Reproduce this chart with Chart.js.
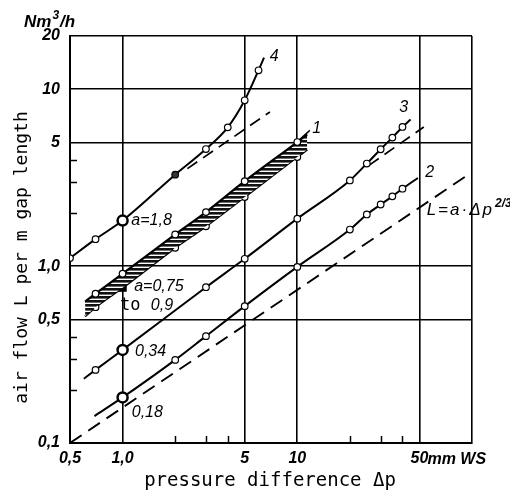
<!DOCTYPE html>
<html>
<head>
<meta charset="utf-8">
<script src="https://cdn.jsdelivr.net/npm/chart.js"></script>
<style>
  html, body { margin: 0; padding: 0; background: #fff; }
  #wrap { width: 510px; height: 490px; }
</style>
</head>
<body>
<div id="wrap"><canvas id="c" width="510" height="490"></canvas></div>
<script>
// ---- axis ticks ----
const xTickValues = [0.5, 1, 5, 10, 50, 100];
const xTickLabels = ['0,5', '1,0', '5', '10', '50', ''];
const yTickValues = [0.1, 0.5, 1, 5, 10, 20];
const yTickLabels = ['0,1', '0,5', '1,0', '5', '10', '20'];
const xMinorTicks = [2, 3, 4, 20, 30, 40];
const yMinorTicks = [0.2, 0.3, 0.4, 2, 3, 4];

// ---- curve 4 (a = 1.8) ----
const curve4Dp = [0.5, 0.7, 1.0, 2.0, 3.0, 4.0, 5.0, 6.0, 6.45];
const curve4L  = [1.11, 1.42, 1.81, 3.29, 4.59, 6.09, 8.66, 12.8, 15.1];
// ---- curve 1 band (a = 0.75 to 0.9) ----
const curve1Dp    = [0.61, 0.7, 1, 2, 3, 5, 10, 11.4];
const curve1Upper = [0.63, 0.698, 0.906, 1.51, 2.02, 3.02, 5.03, 5.55];
const curve1Lower = [0.52, 0.586, 0.755, 1.27, 1.68, 2.46, 4.14, 4.55];
// ---- curve 3 (a = 0.34) ----
const curve3Dp = [0.6, 0.7, 1.0, 3.0, 5.0, 10, 20, 25, 30, 35, 40, 44.5];
const curve3L  = [0.231, 0.259, 0.336, 0.76, 1.10, 1.855, 3.05, 3.80, 4.58, 5.33, 6.12, 6.74];
// ---- curve 2 (a = 0.18) ----
const curve2Dp = [0.69, 1.0, 2.0, 3.0, 5.0, 10, 20, 25, 30, 35, 40, 49];
const curve2L  = [0.142, 0.181, 0.295, 0.402, 0.594, 0.99, 1.61, 1.96, 2.23, 2.48, 2.74, 3.15];
// ---- dashed reference lines L = a·Δp^(2/3) ----
const dashMainDp = [0.5, 100];  const dashMainL = [0.1, 3.4];
const dash4Dp    = [2.35, 6.97]; const dash4L    = [3.56, 7.44];
const dash3Dp    = [25.7, 53];   const dash3L    = [3.71, 6.12];
// ---- leader of label "1" ----
const leader1Dp = [10.2, 11.8]; const leader1L = [5.15, 5.85];

// ---- annotation anchors (data space) ----
const labelTexts = ['4', '1', '3', '2', 'a=1,8', 'a=0,75', '0,34', '0,18'];
const labelDp    = [7.37, 12.9, 40.6, 57.2, 1.466, 1.614, 1.446, 1.385];
const labelL     = [15.4, 5.99, 7.91, 3.40, 1.81, 0.767, 0.331, 0.149];

const pts = (xs, ys) => xs.map((x, i) => ({ x: x, y: ys[i] }));

// hatch pattern for band
const pc = document.createElement('canvas');
pc.width = 6; pc.height = 4;
const pctx = pc.getContext('2d');
pctx.fillStyle = '#fff'; pctx.fillRect(0, 0, 6, 4);
pctx.fillStyle = '#111'; pctx.fillRect(0, 0, 6, 2.6);
const hatch = document.createElement('canvas').getContext('2d').createPattern(pc, 'repeat');

function markerRadius(n, skipFirst, skipLast, big) {
  return (ctx) => {
    const i = ctx.dataIndex;
    if ((skipFirst && i === 0) || (skipLast && i === n - 1)) return 0;
    return big && big(ctx) ? 5 : 3.3;
  };
}
const atOne = (xs) => (ctx) => xs[ctx.dataIndex] === 1;

const solid = { borderColor: '#000', borderWidth: 2, pointBackgroundColor: '#fff',
  pointBorderColor: '#000', fill: false };

const datasets = [
  Object.assign({}, solid, {
    data: pts(curve1Dp, curve1Upper), fill: '+1', backgroundColor: hatch,
    borderWidth: 2.2, cubicInterpolationMode: 'monotone',
    pointRadius: markerRadius(curve1Dp.length, true, true),
    pointBorderWidth: 1.2
  }),
  Object.assign({}, solid, {
    data: pts(curve1Dp, curve1Lower), borderWidth: 2.2, cubicInterpolationMode: 'monotone',
    pointRadius: markerRadius(curve1Dp.length, true, true, atOne(curve1Dp)),
    pointStyle: (ctx) => curve1Dp[ctx.dataIndex] === 1 ? 'rect' : 'circle',
    pointBackgroundColor: (ctx) => curve1Dp[ctx.dataIndex] === 1 ? '#000' : '#fff',
    pointBorderWidth: 1.2
  }),
  Object.assign({}, solid, {
    data: pts(curve4Dp, curve4L), cubicInterpolationMode: 'monotone',
    pointRadius: markerRadius(curve4Dp.length, false, true, atOne(curve4Dp)),
    pointBorderWidth: (ctx) => curve4Dp[ctx.dataIndex] === 1 ? 2.5 : 1.2,
    pointBackgroundColor: (ctx) => curve4Dp[ctx.dataIndex] === 2 ? '#333' : '#fff'
  }),
  Object.assign({}, solid, {
    data: pts(curve3Dp, curve3L), cubicInterpolationMode: 'monotone',
    pointRadius: markerRadius(curve3Dp.length, true, true, atOne(curve3Dp)),
    pointBorderWidth: (ctx) => curve3Dp[ctx.dataIndex] === 1 ? 2.5 : 1.2
  }),
  Object.assign({}, solid, {
    data: pts(curve2Dp, curve2L), cubicInterpolationMode: 'monotone',
    pointRadius: markerRadius(curve2Dp.length, true, true, atOne(curve2Dp)),
    pointBorderWidth: (ctx) => curve2Dp[ctx.dataIndex] === 1 ? 2.5 : 1.2
  }),
  { data: pts(dashMainDp, dashMainL), borderColor: '#000', borderWidth: 1.9, borderDash: [14, 8], pointRadius: 0, fill: false },
  { data: pts(dash4Dp, dash4L), borderColor: '#000', borderWidth: 1.7, borderDash: [12, 7], pointRadius: 0, fill: false },
  { data: pts(dash3Dp, dash3L), borderColor: '#000', borderWidth: 1.7, borderDash: [12, 7], pointRadius: 0, fill: false },
  { data: pts(leader1Dp, leader1L), borderColor: '#000', borderWidth: 1.5, pointRadius: 0, fill: false }
];

const tickFont = { family: 'Liberation Sans', size: 16, style: 'italic', weight: 'bold' };

const textPlugin = {
  id: 'texts',
  afterDraw(chart) {
    const ctx = chart.ctx, xs = chart.scales.x, ys = chart.scales.y, a = chart.chartArea;
    ctx.save();
    ctx.strokeStyle = '#000'; ctx.lineWidth = 1.5;
    // minor ticks
    xMinorTicks.forEach(v => {
      const p = Math.round(xs.getPixelForValue(v)) + 0.5;
      ctx.beginPath(); ctx.moveTo(p, a.bottom); ctx.lineTo(p, a.bottom - 7); ctx.stroke();
    });
    yMinorTicks.forEach(v => {
      const p = Math.round(ys.getPixelForValue(v)) + 0.5;
      ctx.beginPath(); ctx.moveTo(a.left, p); ctx.lineTo(a.left + 7, p); ctx.stroke();
    });
    ctx.fillStyle = '#000';
    // axis titles
    ctx.font = '18px "DejaVu Sans Mono"';
    ctx.textAlign = 'center'; ctx.textBaseline = 'alphabetic';
    ctx.save();
    ctx.translate(27, (a.top + a.bottom) / 2 + 18);
    ctx.rotate(-Math.PI / 2);
    ctx.fillText('air flow L per m gap length', 0, 0);
    ctx.restore();
    ctx.font = '19px "DejaVu Sans Mono"';
    ctx.fillText('pressure difference \u0394p', 270, 486);
    // unit labels
    ctx.textAlign = 'left';
    ctx.font = 'italic bold 17px "Liberation Sans"';
    const nmW = ctx.measureText('Nm').width;
    ctx.fillText('Nm', 24, 27);
    ctx.font = 'italic bold 12px "Liberation Sans"';
    const supW = ctx.measureText('3').width;
    ctx.fillText('3', 24 + nmW + 1, 19);
    ctx.font = 'italic bold 17px "Liberation Sans"';
    ctx.fillText('/h', 24 + nmW + supW + 2, 27);
    ctx.font = 'italic bold 16px "Liberation Sans"';
    ctx.fillText('mm WS', xs.getPixelForValue(50) + 8, 464);
    // curve labels
    ctx.font = 'italic 16px "Liberation Sans"';
    ctx.textAlign = 'center'; ctx.textBaseline = 'middle';
    labelTexts.forEach((t, i) => {
      ctx.fillText(t, xs.getPixelForValue(labelDp[i]), ys.getPixelForValue(labelL[i]));
    });
    // "to 0,9"
    const tx = xs.getPixelForValue(1.372), ty = ys.getPixelForValue(0.599);
    ctx.textAlign = 'left';
    ctx.font = '17px "DejaVu Sans Mono"';
    const w1 = ctx.measureText('to ').width;
    ctx.font = 'italic 16px "Liberation Sans"';
    const w2 = ctx.measureText('0,9').width;
    const sx = tx - (w1 + w2) / 2;
    ctx.font = '17px "DejaVu Sans Mono"';
    ctx.fillText('to', sx, ty);
    ctx.font = 'italic 16px "Liberation Sans"';
    ctx.fillText('0,9', sx + w1, ty);
    // formula
    const fx = xs.getPixelForValue(55.0), fy = ys.getPixelForValue(2.07);
    ctx.font = 'italic 17px "Liberation Sans"';
    ctx.letterSpacing = '2px';
    ctx.fillText('L=a\u00B7\u0394p', fx, fy);
    const fw = ctx.measureText('L=a\u00B7\u0394p').width;
    ctx.letterSpacing = '0px';
    ctx.font = 'italic bold 12px "Liberation Sans"';
    ctx.fillText('2/3', fx + fw + 1, fy - 7);
    ctx.restore();
  }
};

new Chart(document.getElementById('c'), {
  type: 'line',
  data: { datasets: datasets },
  options: {
    responsive: false, animation: false, devicePixelRatio: 1,
    layout: { padding: { top: 36, right: 38, bottom: 0, left: 0 } },
    plugins: { legend: { display: false }, tooltip: { enabled: false } },
    elements: { line: { tension: 0 } },
    scales: {
      x: {
        type: 'logarithmic', min: 0.5, max: 100,
        afterBuildTicks: s => { s.ticks = xTickValues.map(v => ({ value: v })); },
        afterFit: s => { s.height = 47; },
        grid: { color: '#000', lineWidth: 1.6, drawTicks: false },
        border: { color: '#000', width: 2 },
        ticks: { callback: (v, i) => xTickLabels[i], font: tickFont, color: '#000',
          padding: 6, maxRotation: 0, autoSkip: false }
      },
      y: {
        type: 'logarithmic', min: 0.1, max: 20,
        afterBuildTicks: s => { s.ticks = yTickValues.map(v => ({ value: v })); },
        afterFit: s => { s.width = 70; },
        grid: { color: '#000', lineWidth: 1.6, drawTicks: false },
        border: { color: '#000', width: 2 },
        ticks: { callback: (v, i) => yTickLabels[i], font: tickFont, color: '#000',
          padding: 10, autoSkip: false }
      }
    }
  },
  plugins: [textPlugin]
});
</script>
</body>
</html>
